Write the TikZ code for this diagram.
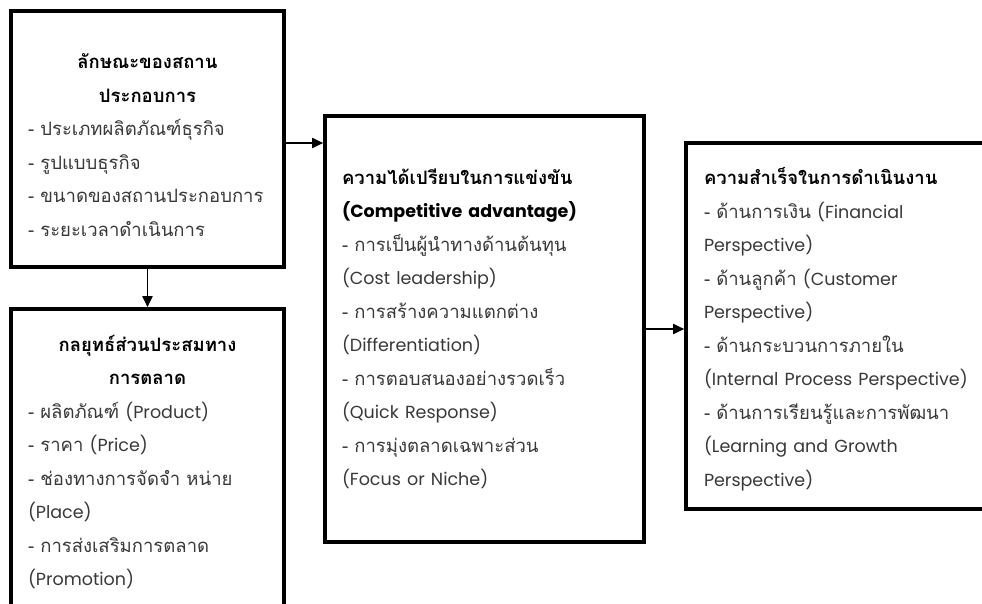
\documentclass[tikz,border=0pt]{standalone}
\usepackage{fontspec}
\setmainfont[Script=Thai]{Loma}
\newfontfamily\latinfont{Poppins}
\newcommand{\eng}[1]{{\latinfont\fontsize{17.5}{33.5}\selectfont #1}}
\usetikzlibrary{arrows.meta}

\begin{document}
\begin{tikzpicture}[x=1pt, y=1pt,
    blk/.style={draw=black, line width=3.6pt, rectangle, align=left, inner sep=0pt,
                text=black!78, font=\fontsize{18.5}{33.5}\selectfont},
    arr/.style={-{Triangle[length=11pt, width=10pt]}, line width=1.8pt}]
    \useasboundingbox (0,0) rectangle (982,603);
    \node[blk, minimum width=273pt, minimum height=256pt, text width=239pt] (firm) at (147.5,464)
        {{\centering\bfseries\color{black}\rule{0pt}{27pt}ลักษณะของสถาน\\ประกอบการ\par}
         - ประเภทผลิตภัณฑ์ธุรกิจ\\
         - รูปแบบธุรกิจ\\
         - ขนาดของสถานประกอบการ\\
         - ระยะเวลาดำเนินการ};
    \node[blk, minimum width=273pt, minimum height=306pt, text width=239pt] (mix) at (147.5,141)
        {{\centering\bfseries\color{black}กลยุทธ์ส่วนประสมทาง\\การตลาด\par}
         - ผลิตภัณฑ์ \eng{(Product)}\\
         - ราคา \eng{(Price)}\\
         - ช่องทางการจัดจำ หน่าย\\
         \eng{(Place)}\\
         - การส่งเสริมการตลาด\\
         \eng{(Promotion)}};
    \node[blk, minimum width=319pt, minimum height=426pt, text width=285pt] (comp) at (484.5,274)
        {{\bfseries\color{black}ความได้เปรียบในการแข่งขัน\\\eng{(Competitive advantage)}\par}
         - การเป็นผู้นำทางด้านต้นทุน\\
         \eng{(Cost leadership)}\\
         - การสร้างความแตกต่าง\\
         \eng{(Differentiation)}\\
         - การตอบสนองอย่างรวดเร็ว\\
         \eng{(Quick Response)}\\
         - การมุ่งตลาดเฉพาะส่วน\\
         \eng{(Focus or Niche)}};
    \node[blk, minimum width=314pt, minimum height=366pt, text width=278pt] (succ) at (843,277)
        {{\bfseries\color{black}\rule{0pt}{24pt}ความสำเร็จในการดำเนินงาน\par}
         - ด้านการเงิน \eng{(Financial}\\
         \eng{Perspective)}\\
         - ด้านลูกค้า \eng{(Customer}\\
         \eng{Perspective)}\\
         - ด้านกระบวนการภายใน\\
         \eng{(Internal Process Perspective)}\\
         - ด้านการเรียนรู้และการพัฒนา\\
         \eng{(Learning and Growth}\\
         \eng{Perspective)}};
    \draw[arr] ([yshift=-4pt]firm.east) -- ([yshift=-4pt]firm.east -| comp.west);
    \draw[arr] (firm.south) -- (mix.north);
    \draw[arr] (comp.east) -- (comp.east -| succ.west);
\end{tikzpicture}
\end{document}
